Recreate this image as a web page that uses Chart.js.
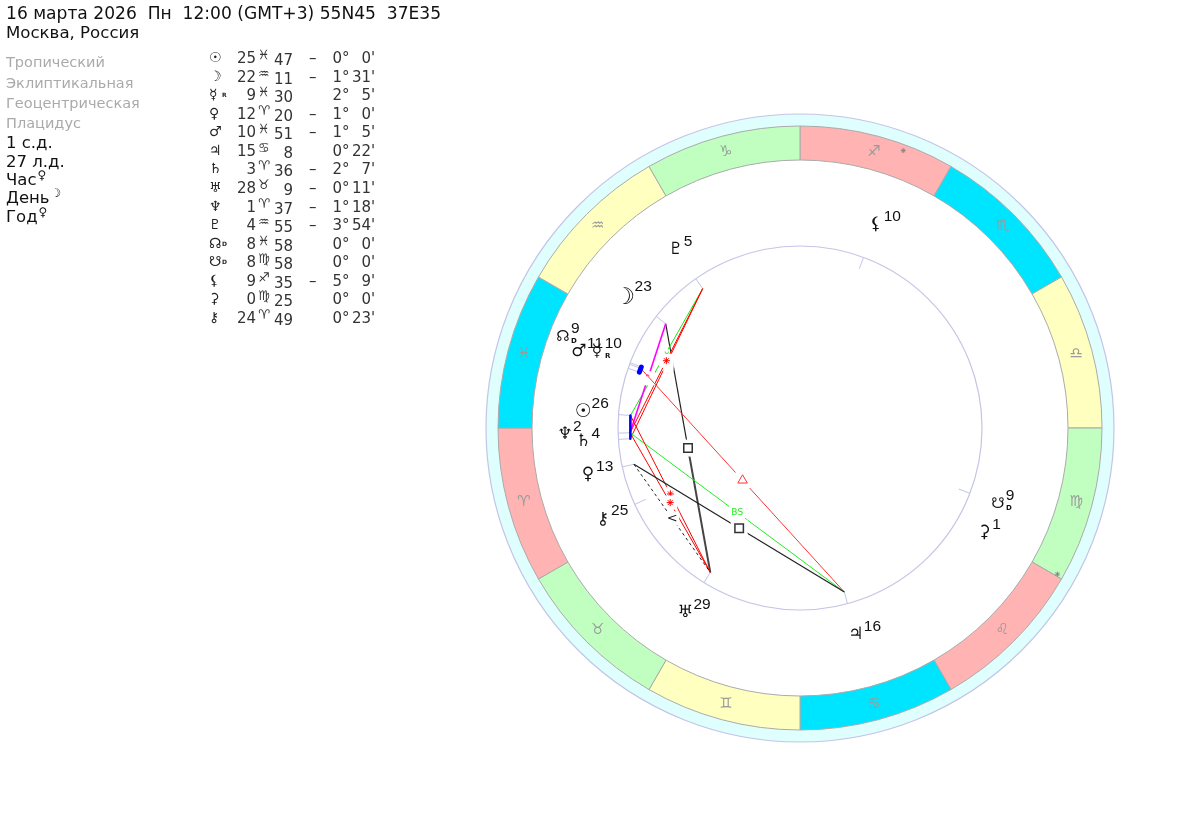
<!DOCTYPE html>
<html><head><meta charset="utf-8">
<script src="https://cdn.jsdelivr.net/npm/chart.js@4"></script>
<style>
html,body{margin:0;padding:0;background:#fff;width:1200px;height:832px;overflow:hidden}
#wheel{position:absolute;left:0;top:0}
.t{position:absolute;white-space:pre;font-family:"DejaVu Sans",sans-serif;color:#111;line-height:1}
</style></head><body>
<canvas id="wheel" width="1200" height="832"></canvas>
<div id="panel"></div>
<script>
// ---- data ----
const titleLines = ["16 марта 2026  Пн  12:00 (GMT+3) 55N45  37E35", "Москва, Россия"];
const settingsGrey = ["Тропический","Эклиптикальная","Геоцентрическая","Плацидус"];
const rulerLines = [["1 с.д.",""],["27 л.д.",""],["Час","♀"],["День","☽"],["Год","♀"]];
const signGlyphs = ["♈","♉","♊","♋","♌","♍","♎","♏","♐","♑","♒","♓"];
const bodyNames  = ["Sun","Moon","Mercury","Venus","Mars","Jupiter","Saturn","Uranus","Neptune","Pluto","NNode","SNode","Lilith","Selena","Chiron"];
const bodyGlyphs = ["☉","☽","☿","♀","♂","♃","♄","♅","♆","♇","☊","☋","⚸","⚳","⚷"];
const bodyMarks  = ["","","R","","","","","","","","D","D","","",""];
const bodySign   = [11,10,11,0,11,3,0,1,0,10,11,5,8,5,0];
const bodyDeg    = [25,22,9,12,10,15,3,28,1,4,8,8,9,0,24];
const bodyMin    = [47,11,30,20,51,8,36,9,37,55,58,58,35,25,49];
const latNeg     = [1,1,0,1,1,0,1,1,1,1,0,0,1,0,0];
const latDeg     = [0,1,2,1,1,0,2,0,1,3,0,0,5,0,0];
const latMin     = [0,31,5,0,5,22,7,11,18,54,0,0,9,0,23];
const wheelLabel = [26,23,10,13,11,16,4,29,2,5,9,9,10,1,25];
const aspectA    = ["Moon","Sun","Pluto","Pluto","Moon","Mercury","Neptune","Sun","Neptune","Venus","Venus"];
const aspectB    = ["Uranus","Pluto","Saturn","Neptune","Neptune","Jupiter","Jupiter","Uranus","Uranus","Uranus","Jupiter"];
const aspectKind = ["square","septile","sextile","sextile","novile","trine","biseptile","sextile","sextile","semisquare","square"];
const conjA = ["Sun","NNode"];
const conjB = ["Saturn","Mars"];
const zodiacSlices = [1,1,1,1,1,1,1,1,1,1,1,1];
const ringSlice = [1];

// ---- layout and style ----
const C = {rRingOut:314,rZodOut:302,rZodIn:268,rInner:182,rAspect:170,rGlyph:217,rSignGlyph:286};
const bodyRing = {NNode:254,Mars:234,Neptune:235,SNode:212,Selena:212,Jupiter:214};
const bodyFont = {Sun:'19px',Moon:'bold 23px',NNode:'15px',SNode:'15px',Lilith:'bold 17px'};
const glyphShift = {Moon:[-4,3]};
const noTick = ["Selena"];
const zodiacColors = ["#ffb3b3","#00e5ff","#ffffc0","#c0ffc0","#ffb3b3","#00e5ff","#ffffc0","#c0ffc0","#ffb3b3","#00e5ff","#ffffc0","#c0ffc0"];
const kindStyle = {
  square:{color:"#222",width:1.2,point:"rect",size:6,box:12},
  trine:{color:"#f33",width:1,point:"triangle",size:5.5,box:11},
  sextile:{color:"#f00",width:1,point:"star",size:3.5,box:10},
  septile:{color:"#1e1",width:1,text:"ᴗ",size:8,box:4},
  biseptile:{color:"#2e2",width:1,text:"BS",size:9,box:11},
  novile:{color:"#f0f",width:1.6,text:"⌃",size:9,box:10},
  semisquare:{color:"#222",width:1,dash:[3,3],text:"<",size:13,box:10}
};

const lon = i => bodySign[i]*30 + bodyDeg[i] + bodyMin[i]/60;
const polar = (deg,r) => { const a=(180+deg)*Math.PI/180; return {x:r*Math.cos(a), y:r*Math.sin(a)}; };
const idx = n => bodyNames.indexOf(n);
const line = (pts,color,width,extra={}) => Object.assign({type:"scatter",data:pts,showLine:true,borderColor:color,borderWidth:width,pointRadius:0,fill:false,weight:0,order:5,clip:false},extra);

const datasets = [];
datasets.push({type:"doughnut",data:ringSlice,backgroundColor:["#dfffff"],borderWidth:0,radius:C.rRingOut,cutout:(C.rZodIn/C.rRingOut*100)+"%",weight:C.rRingOut-C.rZodOut,order:100});
datasets.push({type:"doughnut",data:zodiacSlices,backgroundColor:zodiacColors,borderColor:"#aaaaaa",borderWidth:1,radius:C.rRingOut,cutout:(C.rZodIn/C.rRingOut*100)+"%",weight:C.rZodOut-C.rZodIn,order:99});
// outline circles
[C.rRingOut,C.rInner].forEach(r=>datasets.push({type:"scatter",data:[{x:0,y:0}],pointRadius:r,pointStyle:"circle",pointBackgroundColor:"transparent",pointBorderColor:"#c4c4e6",pointBorderWidth:1.2,weight:0,order:50,clip:false}));
// ticks
bodyNames.forEach((n,i)=>{ if(noTick.includes(n)) return;
  datasets.push(line([polar(lon(i),C.rInner),polar(lon(i),C.rAspect)],"#c4c4e6",1,{order:40})); });
// aspects, painted one after another: line, white box, symbol
const symbols=[];
aspectA.forEach((a,k)=>{
  const kind=aspectKind[k], s=kindStyle[kind], o=30-k;
  const p=polar(lon(idx(a)),C.rAspect), q=polar(lon(idx(aspectB[k])),C.rAspect);
  const mid={x:(p.x+q.x)/2,y:(p.y+q.y)/2};
  const extra=s.dash?{borderDash:s.dash,order:o}:{order:o};
  const heavy=kind==="square"&&a==="Moon";
  datasets.push(line([p,mid],s.color,s.width,extra));
  datasets.push(line([mid,q],heavy?"#444":s.color,heavy?2:s.width,extra));
  datasets.push({type:"scatter",data:[mid],pointStyle:"rect",pointRadius:s.box,pointBackgroundColor:"#fff",pointBorderWidth:0,pointBorderColor:"#fff",weight:0,order:o-0.2,clip:false});
  if(s.point) datasets.push({type:"scatter",data:[mid],pointStyle:s.point,pointRadius:s.size,pointBackgroundColor:"transparent",pointBorderColor:kind==="square"?"#333":s.color,pointBorderWidth:kind==="square"?1.5:1,weight:0,order:o-0.4,clip:false});
  if(s.text) symbols.push({mid,t:s.text,color:s.color,size:s.size});
});
// conjunctions
conjA.forEach((a,k)=>{
  datasets.push(line([polar(lon(idx(a)),C.rAspect),polar(lon(idx(conjB[k])),C.rAspect)],"#0000ff",k==0?2.5:5,{order:3,borderCapStyle:"round"}));
});
// body anchor positions
const bodyData = bodyNames.map((n,i)=>polar(lon(i),bodyRing[n]||C.rGlyph));
datasets.push({type:"scatter",data:bodyData,pointRadius:0,weight:0,order:1,label:"bodies"});
const signData = signGlyphs.map((g,i)=>polar(i*30+15,C.rSignGlyph));
datasets.push({type:"scatter",data:signData,pointRadius:0,weight:0,order:1,label:"signs"});
datasets.push({type:"scatter",data:["Lilith","Selena"].map(n=>polar(lon(idx(n)),296)),pointStyle:"star",pointRadius:2.5,pointBorderColor:"#888",pointBorderWidth:1,weight:0,order:2});

const textPlugin={id:"wheelText",afterDatasetsDraw(chart){
  const ctx=chart.ctx,xs=chart.scales.x,ys=chart.scales.y;
  ctx.save();ctx.textAlign="center";ctx.textBaseline="middle";
  signGlyphs.forEach((g,i)=>{const p=signData[i];ctx.fillStyle="#9a9a9a";ctx.font='15px "DejaVu Sans"';ctx.fillText(g,xs.getPixelForValue(p.x),ys.getPixelForValue(p.y));});
  symbols.forEach(s=>{ctx.fillStyle=s.color;ctx.font=s.size+'px "DejaVu Sans"';ctx.fillText(s.t,xs.getPixelForValue(s.mid.x),ys.getPixelForValue(s.mid.y));});
  bodyNames.forEach((n,i)=>{const p=bodyData[i],x=xs.getPixelForValue(p.x),y=ys.getPixelForValue(p.y),sh=glyphShift[n]||[0,0];
    ctx.textAlign="center";ctx.fillStyle="#111";ctx.font=(bodyFont[n]||'17px')+' "DejaVu Sans"';ctx.fillText(bodyGlyphs[i],x+sh[0],y+sh[1]);
    if(bodyMarks[i]){ctx.font='bold 7px "DejaVu Sans"';ctx.fillText(bodyMarks[i],x+11,y+4);}
    ctx.textAlign="left";ctx.font='15.5px "Liberation Sans"';ctx.fillStyle="#111";ctx.fillText(String(wheelLabel[i]),x+8+sh[0]/2,y-8);
  });
  ctx.restore();
}};

new Chart(document.getElementById("wheel"),{
  type:"scatter",
  data:{datasets},
  plugins:[textPlugin],
  options:{responsive:false,animation:false,devicePixelRatio:1,
    layout:{autoPadding:false,padding:{left:400,top:24,right:0,bottom:0}},
    plugins:{legend:{display:false},tooltip:{enabled:false}},
    events:[],
    scales:{x:{type:"linear",display:false,min:-400,max:400},y:{type:"linear",display:false,min:-404,max:404}}
  }
});

// ---- text panel ----
const panel=document.getElementById("panel");
const put=(txt,x,y,size,color,extra={})=>{const d=document.createElement("div");d.className="t";d.textContent=txt;d.style.left=x+"px";d.style.top=y+"px";d.style.fontSize=size+"px";if(color)d.style.color=color;Object.assign(d.style,extra);panel.appendChild(d);return d;};
titleLines.forEach((t,i)=>put(t,6,[5,25][i],[17.1,16.6][i]));
settingsGrey.forEach((t,i)=>put(t,6,[55,76,96,116][i],14.5,"#aaaaaa"));
rulerLines.forEach((r,i)=>{const y=[135,154,172,190,209][i];const d=put(r[0],6,y,16.5);
  if(r[1]){const w=d.getBoundingClientRect().width;put(r[1],6+w+1,y-3,12);}});
const rowY=i=>51+i*18.57;
const rt=(txt,right,y,size,color,extra={})=>put(txt,0,y,size,color,Object.assign({left:"auto",right:(1200-right)+"px"},extra));
bodyNames.forEach((n,i)=>{const y=rowY(i);
  put(bodyGlyphs[i],209,y-1,14,"#222");
  if(bodyMarks[i])put(bodyMarks[i],222,y+4,6,"#222",{fontWeight:"bold"});
  rt(String(bodyDeg[i]),256,y,15,"#333");
  put(signGlyphs[bodySign[i]],258,y-3,13,"#333");
  rt(String(bodyMin[i]),293,y+2,15,"#333");
  if(latNeg[i])put("–",309,y,15,"#333");
  rt(String(latDeg[i]),342,y,15,"#333");
  put("°",342,y,15,"#333");
  rt(String(latMin[i]),371,y,15,"#333");
  put("'",371,y,15,"#333");
});
</script>
</body></html>
